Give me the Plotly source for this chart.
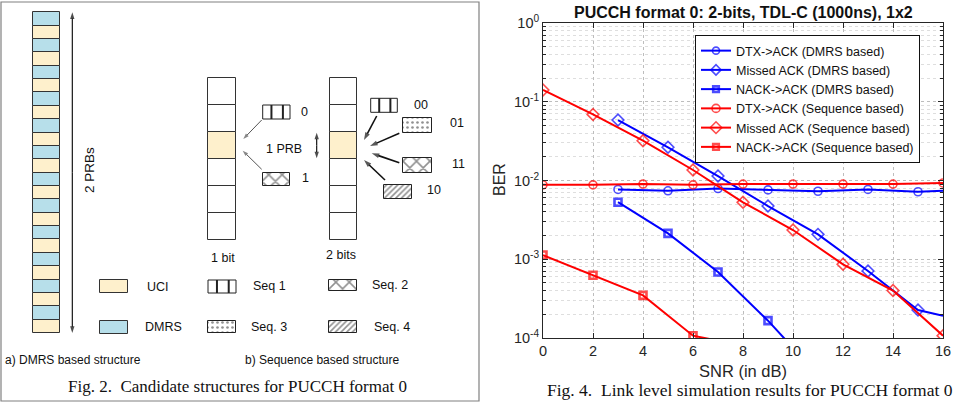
import plotly.graph_objects as go

W, H = 976, 403

# ---------------- chart data ----------------
snr_dtx_dmrs = [3, 5, 7, 9, 11, 13, 15, 16]
ber_dtx_dmrs = [0.0077, 0.0074, 0.0079, 0.0076, 0.0073, 0.0077, 0.0072, 0.0074]

snr_miss_dmrs = [3, 5, 7, 9, 11, 13, 15, 16]
ber_miss_dmrs = [0.0586, 0.0264, 0.0114, 0.00474, 0.00207, 0.00071, 0.000227, 0.000192]

snr_nack_dmrs = [3, 5, 7, 9, 11]
ber_nack_dmrs = [0.0053, 0.00213, 0.00069, 0.000166, 0.000034]

snr_dtx_seq = [0, 2, 4, 6, 8, 10, 12, 14, 16]
ber_dtx_seq = [0.0088, 0.0088, 0.0090, 0.0088, 0.0090, 0.0090, 0.0090, 0.0090, 0.0093]

snr_miss_seq = [0, 2, 4, 6, 8, 10, 12, 14, 16]
ber_miss_seq = [0.141, 0.069, 0.032, 0.0136, 0.00528, 0.00235, 0.000863, 0.0004, 0.000107]

snr_nack_seq = [0, 2, 4, 6, 8]
ber_nack_seq = [0.00113, 0.000625, 0.000348, 0.000107, 0.00008]

x_ticks = [0, 2, 4, 6, 8, 10, 12, 14, 16]
y_tick_vals = [1e-4, 1e-3, 1e-2, 1e-1, 1]
y_tick_text = ["10<sup>-4</sup>", "10<sup>-3</sup>", "10<sup>-2</sup>", "10<sup>-1</sup>", "10<sup>0</sup>"]

series_names = [
    "DTX->ACK (DMRS based)", "Missed ACK (DMRS based)", "NACK->ACK (DMRS based)",
    "DTX->ACK (Sequence based)", "Missed ACK (Sequence based)", "NACK->ACK (Sequence based)",
]

# ---------------- diagram content ----------------
prb_cells = ["DMRS", "UCI"] * 12
bit_cells = ["", "", "UCI", "", "", ""]
legend_labels = ["UCI", "DMRS", "Seq 1", "Seq. 3", "Seq. 2", "Seq. 4"]
bit_labels_1 = ["0", "1"]
bit_labels_2 = ["00", "01", "11", "10"]

SANS = "Liberation Sans, Arial, sans-serif"
SERIF = "Liberation Serif, Times New Roman, serif"
TXT = "#262626"
BLUE, RED = "#0000FF", "#FF0000"
CELL_COL = {"DMRS": "#B7DFEA", "UCI": "#FEF0CC", "": "white"}

fig = go.Figure()

# ---------------- chart traces ----------------
def add_series(x, y, name, color, symbol, size, lw_marker, hide_last):
    sizes = [size] * len(x)
    if hide_last:
        sizes[-1] = 0
    fig.add_trace(go.Scatter(
        x=x, y=y, name=name, mode="lines+markers",
        line=dict(color=color, width=2),
        marker=dict(symbol=symbol, size=sizes, color=color,
                    line=dict(color=color, width=lw_marker)),
        xaxis="x", yaxis="y"))

add_series(snr_dtx_dmrs, ber_dtx_dmrs, series_names[0], BLUE, "circle-open", 8, 1.6, True)
add_series(snr_miss_dmrs, ber_miss_dmrs, series_names[1], BLUE, "diamond-open", 9, 1.6, True)
add_series(snr_nack_dmrs, ber_nack_dmrs, series_names[2], BLUE, "square-open", 7, 2.6, True)
add_series(snr_dtx_seq, ber_dtx_seq, series_names[3], RED, "circle-open", 8, 1.6, False)
add_series(snr_miss_seq, ber_miss_seq, series_names[4], RED, "diamond-open", 9, 1.6, False)
add_series(snr_nack_seq, ber_nack_seq, series_names[5], RED, "square-open", 7, 2.6, True)

# ---------------- diagram (pixel coordinates on x2/y2) ----------------
def cell_bar(xc, width, top, cell_h, kinds):
    fig.add_trace(go.Bar(
        x=[xc] * len(kinds), y=[cell_h] * len(kinds),
        base=[top + i * cell_h for i in range(len(kinds))],
        width=width, marker=dict(color=[CELL_COL[k] for k in kinds],
                                 line=dict(color="#333333", width=1)),
        xaxis="x2", yaxis="y2", showlegend=False, hoverinfo="skip"))

cell_bar(46.3, 27.3, 12.3, 13.36, prb_cells)
cell_bar(222.0, 27.4, 77.7, 27.05, bit_cells)
cell_bar(343.7, 27.3, 77.7, 27.05, bit_cells)
# legend swatches
cell_bar(113.8, 27.7, 280.0, 13.3, ["UCI"])
cell_bar(113.8, 27.7, 321.0, 13.3, ["DMRS"])

def pattern_boxes(boxes, shape, size, solidity):
    fig.add_trace(go.Bar(
        x=[(b[0] + b[1]) / 2 for b in boxes], y=[b[3] - b[2] for b in boxes],
        base=[b[2] for b in boxes], width=[b[1] - b[0] for b in boxes],
        marker=dict(color="white", line=dict(color="#222222", width=1),
                    pattern=dict(shape=shape, size=size, solidity=solidity,
                                 fgcolor="#222222", bgcolor="white")),
        xaxis="x2", yaxis="y2", showlegend=False, hoverinfo="skip"))

pattern_boxes([(403.3, 431.7, 118.3, 132.7), (208.0, 236.0, 321.0, 332.7)], ".", 5, 0.22)
pattern_boxes([(262.7, 290.0, 172.7, 185.7), (403.3, 431.7, 158.3, 172.7),
               (329.0, 356.7, 280.0, 291.0)], "x", 9.5, 0.3)
pattern_boxes([(384.3, 411.7, 185.0, 199.0), (329.0, 357.0, 321.0, 333.0)], "/", 4, 0.4)

# arrows as line traces with arrow-head markers
def arrow(hx, hy, tx, ty, color, width, head=7):
    fig.add_trace(go.Scatter(
        x=[tx, hx], y=[ty, hy], mode="lines+markers",
        line=dict(color=color, width=width),
        marker=dict(symbol="arrow", size=[0, head], angleref="previous", color=color,
                    line=dict(width=0)),
        xaxis="x2", yaxis="y2", showlegend=False, hoverinfo="skip", cliponaxis=False))

def double_arrow(x, y0, y1, color, width, head=7):
    mid = (y0 + y1) / 2
    arrow(x, y0, x, mid, color, width, head)
    arrow(x, y1, x, mid, color, width, head)

double_arrow(72.3, 12.3, 333.0, "#000000", 1.1)
double_arrow(316.7, 132.7, 158.3, "#000000", 1.1)
arrow(243.3, 139.0, 261.7, 120.0, "#555555", 1, 6)
arrow(242.7, 150.7, 261.7, 169.3, "#555555", 1, 6)
arrow(364.0, 140.0, 376.7, 116.0, "#111111", 1.6, 8)
arrow(370.0, 146.0, 399.3, 133.3, "#111111", 1.6, 8)
arrow(371.7, 153.3, 399.3, 162.7, "#111111", 1.6, 8)
arrow(364.0, 160.0, 385.0, 180.0, "#111111", 1.6, 8)

shapes = []
# Seq 1 icons: box with two vertical bars
for (x0, x1, y0, y1) in [(262.7, 290.0, 105.0, 119.0), (370.7, 397.3, 98.3, 112.3),
                         (208.0, 236.0, 280.0, 293.0)]:
    shapes.append(dict(type="rect", xref="x2", yref="y2", x0=x0, x1=x1, y0=y0, y1=y1,
                       line=dict(color="#222222", width=1), fillcolor="white"))
    for f in (0.32, 0.74):
        xx = x0 + f * (x1 - x0)
        shapes.append(dict(type="line", xref="x2", yref="y2", x0=xx, x1=xx, y0=y0, y1=y1,
                           line=dict(color="#222222", width=2)))
# panel border
shapes.append(dict(type="rect", xref="x2", yref="y2", x0=1, x1=479, y0=2, y1=401,
                   line=dict(color="#808080", width=1.2)))

annotations = []

def text2(x, y, s, size=12.5, angle=0, font=SANS, xanchor="center"):
    annotations.append(dict(xref="x2", yref="y2", x=x, y=y, text=s, showarrow=False,
                            textangle=angle, xanchor=xanchor, yanchor="middle",
                            font=dict(family=font, size=size, color="#111111")))

text2(89, 170, "2 PRBs", size=13.5, angle=-90)
text2(223, 258, "1 bit")
text2(341, 255, "2 bits")
text2(284, 149.3, "1 PRB")
text2(299, 111.7, bit_labels_1[0], xanchor="left")
text2(300, 178, bit_labels_1[1], xanchor="left")
text2(421, 105, bit_labels_2[0])
text2(457, 123.3, bit_labels_2[1])
text2(458, 164, bit_labels_2[2])
text2(434, 190, bit_labels_2[3])
text2(158, 287, legend_labels[0])
text2(163, 327, legend_labels[1])
text2(269, 286, legend_labels[2])
text2(269, 327, legend_labels[3])
text2(390, 285, legend_labels[4])
text2(392, 327, legend_labels[5])
text2(73, 360, "a) DMRS based structure", size=12)
text2(322, 360, "b) Sequence based structure", size=12)
text2(237, 386, "Fig. 2.  Candidate structures for PUCCH format 0", size=17, font=SERIF)

# chart texts (paper coords)
def ptext(x, y, s, size, angle=0, font=SANS, bold=False, color=TXT):
    annotations.append(dict(xref="paper", yref="paper", x=x / W, y=1 - y / H,
                            text=f"<b>{s}</b>" if bold else s, showarrow=False,
                            textangle=angle, xanchor="center", yanchor="middle",
                            font=dict(family=font, size=size, color=color)))

ptext(743, 13, "PUCCH format 0: 2-bits, TDL-C (1000ns), 1x2", 16, bold=True, color="#111111")
ptext(499, 180, "BER", 16, angle=-90)
ptext(743, 371, "SNR (in dB)", 16.5)
ptext(750, 390, "Fig. 4.  Link level simulation results for PUCCH format 0", 17.5, font=SERIF, color="#111111")

minor_vals = [k * 10 ** e for e in range(-4, 0) for k in range(2, 10)]

fig.update_layout(
    width=W, height=H, margin=dict(l=0, r=0, t=0, b=0, pad=0, autoexpand=False),
    paper_bgcolor="white", plot_bgcolor="rgba(0,0,0,0)",
    barmode="overlay", bargap=0,
    font=dict(family=SANS, color=TXT),
    shapes=shapes, annotations=annotations,
    xaxis=dict(domain=[543 / W, 943 / W], anchor="y", range=[0, 16], automargin=False,
               tickvals=x_ticks, ticks="inside", ticklen=5, tickcolor=TXT,
               showline=True, linecolor=TXT, linewidth=1, mirror="allticks",
               showgrid=True, gridcolor="#bdbdbd", griddash="dot", zeroline=False,
               tickfont=dict(size=14.5, color=TXT)),
    yaxis=dict(domain=[1 - 338 / H, 1 - 23 / H], anchor="x", type="log", range=[-4, 0],
               automargin=False,
               tickvals=y_tick_vals, ticktext=y_tick_text, ticks="inside", ticklen=5,
               tickcolor=TXT, showline=True, linecolor=TXT, linewidth=1, mirror="allticks",
               showgrid=True, gridcolor="#bdbdbd", griddash="dot", zeroline=False,
               tickfont=dict(size=14.5, color=TXT),
               minor=dict(tickvals=minor_vals, ticks="inside", ticklen=3, tickcolor=TXT,
                          showgrid=True, gridcolor="#dedede", griddash="dot")),
    xaxis2=dict(domain=[0, 0.5], anchor="y2", range=[0, 488], visible=False, fixedrange=True,
                automargin=False),
    yaxis2=dict(domain=[0, 1], anchor="x2", range=[403, 0], visible=False, fixedrange=True,
                automargin=False),
    legend=dict(x=695 / W, y=1 - 35 / H, xanchor="left", yanchor="top",
                bgcolor="white", bordercolor="#111111", borderwidth=1,
                font=dict(family=SANS, size=12.5, color="#111111"), tracegroupgap=0),
    showlegend=True,
)

fig.write_html("out.html", config={"displayModeBar": False},
               post_script="document.body.style.margin='0';document.body.style.overflow='hidden';")
